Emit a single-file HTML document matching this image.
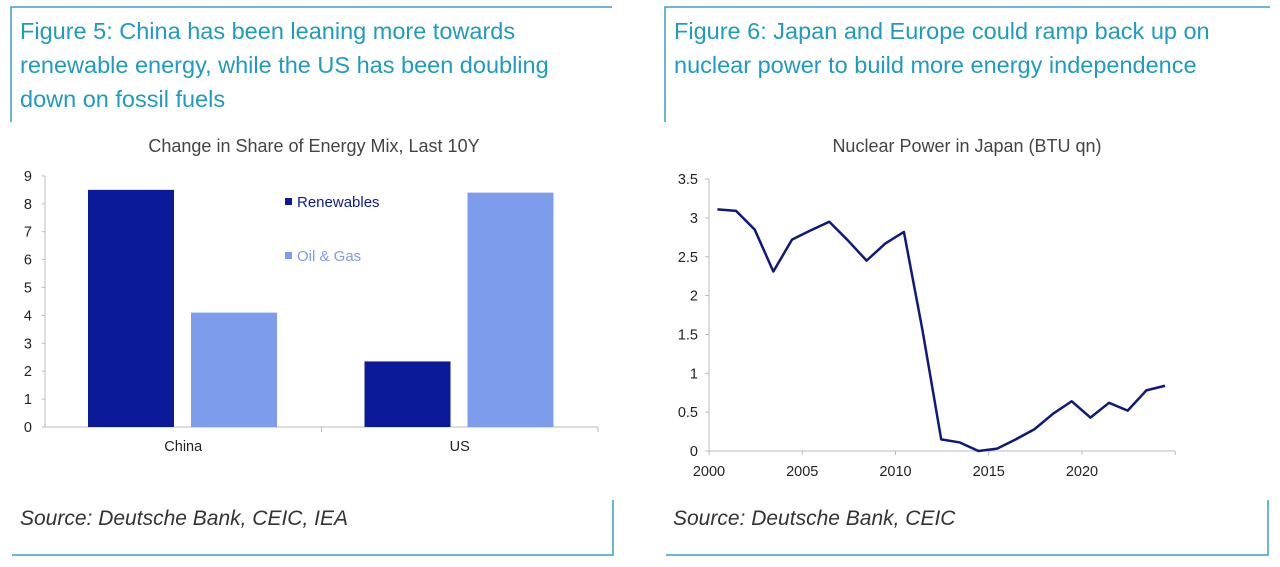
<!DOCTYPE html>
<html><head><meta charset="utf-8"><style>
body{margin:0;background:#fff;width:1280px;height:567px;overflow:hidden;font-family:"Liberation Sans",sans-serif}
svg{position:absolute;left:0;top:0}
</style></head><body>
<svg width="1280" height="567">
<g stroke="#3a9fc0" stroke-width="1.5" fill="none">
<polyline points="11,122 11,7 612,7"/>
<polyline points="12,555 613,555 613,500"/>
<polyline points="665,122 665,7 1270,7"/>
<polyline points="666,555 1268,555 1268,500"/>
</g>
<g font-size="23.5" fill="#1f9bbf">
<text x="20" y="39">Figure 5: China has been leaning more towards</text>
<text x="20" y="73">renewable energy, while the US has been doubling</text>
<text x="20" y="107">down on fossil fuels</text>
<text x="674" y="39">Figure 6: Japan and Europe could ramp back up on</text>
<text x="674" y="73">nuclear power to build more energy independence</text>
</g>
<text x="314" y="152" text-anchor="middle" font-size="18" fill="#444">Change in Share of Energy Mix, Last 10Y</text>
<text x="967" y="152" text-anchor="middle" font-size="18" fill="#444">Nuclear Power in Japan (BTU qn)</text>
<g id="bar"></g>
<g id="line"></g>
<text x="20" y="525" font-size="21" font-style="italic" fill="#333">Source: Deutsche Bank, CEIC, IEA</text>
<text x="673" y="525" font-size="21" font-style="italic" fill="#333">Source: Deutsche Bank, CEIC</text>
</svg>
<script>
const NS="http://www.w3.org/2000/svg";
const barCategories=["China","US"];
const renewables=[8.5,2.35];
const oilGas=[4.1,8.4];
const barTicks=[0,1,2,3,4,5,6,7,8,9];
const lineYears=[2000,2001,2002,2003,2004,2005,2006,2007,2008,2009,2010,2011,2012,2013,2014,2015,2016,2017,2018,2019,2020,2021,2022,2023,2024];
const nuclear=[3.11,3.09,2.85,2.31,2.72,2.84,2.95,2.71,2.45,2.67,2.82,1.55,0.15,0.11,0.0,0.03,0.15,0.28,0.48,0.64,0.43,0.62,0.52,0.78,0.84];
const lineYTicks=[0,0.5,1,1.5,2,2.5,3,3.5];
const lineXTicks=[2000,2005,2010,2015,2020];

function mk(p,tag,a){const e=document.createElementNS(NS,tag);for(const k in a)e.setAttribute(k,a[k]);p.appendChild(e);return e;}
const bg=document.getElementById('bar');
const by=v=>427-v*27.9;
const x0=45,x1=598,gw=(x1-x0)/barCategories.length;
mk(bg,'line',{x1:x0,y1:by(0),x2:x1,y2:by(0),stroke:'#bbb'});
mk(bg,'line',{x1:x0,y1:by(0),x2:x0,y2:by(9),stroke:'#bbb'});
barTicks.forEach(t=>{
 mk(bg,'line',{x1:x0-3,y1:by(t),x2:x0,y2:by(t),stroke:'#bbb'});
 const tx=mk(bg,'text',{x:x0-13,y:by(t)+5,'text-anchor':'end','font-size':14.5,fill:'#222'});tx.textContent=t;
 
 
});
barCategories.forEach((c,i)=>{
 const gx=x0+i*gw;
 mk(bg,'line',{x1:gx+gw,y1:by(0),x2:gx+gw,y2:by(0)+5,stroke:'#bbb'});
 const r1=mk(bg,'rect',{x:gx+43,y:by(renewables[i]),width:86,height:by(0)-by(renewables[i]),fill:'#0a1a99'});
 
 
 const r2=mk(bg,'rect',{x:gx+146,y:by(oilGas[i]),width:86,height:by(0)-by(oilGas[i]),fill:'#7d9ceb'});
 
 
 const t=mk(bg,'text',{x:gx+gw/2,y:451,'text-anchor':'middle','font-size':14.5,fill:'#222'});t.textContent=c;
 
 
});
[["Renewables","#0a1a99",207],["Oil & Gas","#7d9ceb",261]].forEach(([n,col,y])=>{
 const g=mk(bg,'g',{});
 
 
 mk(g,'rect',{x:285,y:y-9,width:7,height:7,fill:col});
 const t=mk(g,'text',{x:297,y:y,'font-size':15,fill:col});t.textContent=n;
});
const lg=document.getElementById('line');
const lx=yr=>709+(yr-2000)*18.65, ly=v=>451-v*77.7;
mk(lg,'line',{x1:709,y1:ly(0),x2:1175,y2:ly(0),stroke:'#bbb'});
mk(lg,'line',{x1:709,y1:ly(0),x2:709,y2:ly(3.5),stroke:'#bbb'});
lineYTicks.forEach(t=>{
 mk(lg,'line',{x1:705,y1:ly(t),x2:709,y2:ly(t),stroke:'#bbb'});
 const tx=mk(lg,'text',{x:698,y:ly(t)+5,'text-anchor':'end','font-size':14.5,fill:'#222'});tx.textContent=t;
 
 
});
lineXTicks.concat([2025]).forEach(t=>{mk(lg,'line',{x1:lx(t),y1:ly(0),x2:lx(t),y2:ly(0)+4,stroke:'#bbb'});});
lineXTicks.forEach(t=>{
 const tx=mk(lg,'text',{x:lx(t),y:476,'text-anchor':'middle','font-size':14.5,fill:'#222'});tx.textContent=t;
 
 
});
const pl=mk(lg,'polyline',{points:lineYears.map((y,i)=>lx(y+0.45)+','+ly(nuclear[i])).join(' '),fill:'none',stroke:'#0e1a7a','stroke-width':2.5,'stroke-linejoin':'round'});


</script>
</body></html>
